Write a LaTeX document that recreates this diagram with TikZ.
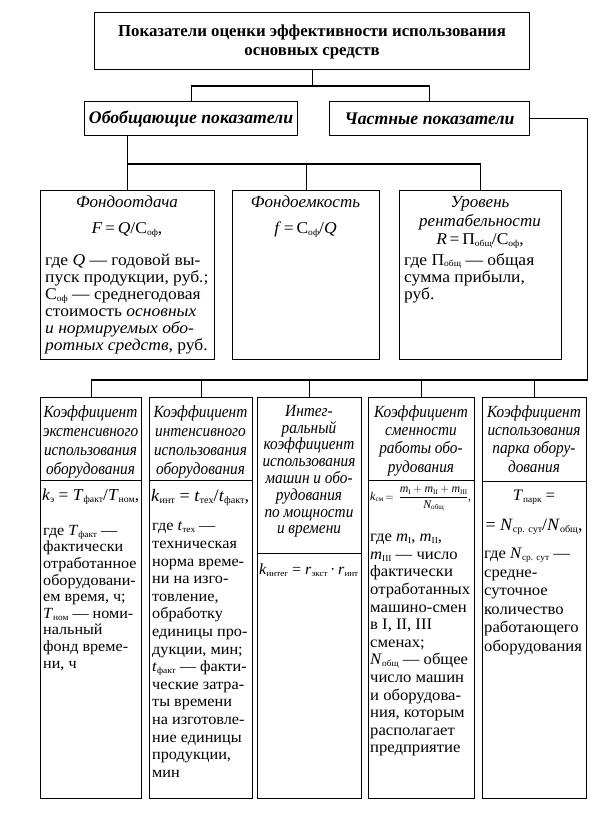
\documentclass[tikz,border=0pt]{standalone}
\usepackage{fontspec}
\setmainfont{Liberation Serif}
\newfontfamily\wideA[FakeStretch=1.06]{Liberation Serif}
\newfontfamily\wideB[FakeStretch=1.04]{Liberation Serif}
\newfontfamily\narrowH[FakeStretch=0.9]{Liberation Serif}
\usepackage{amsmath}
\usepackage{graphicx}
\newcommand\sub[1]{\raisebox{-0.25ex}{\fontsize{9}{9}\selectfont #1}}
\newcommand\fsA{\wideA\fontsize{16.5}{17}\selectfont}
\newcommand\fsH{\narrowH\itshape\fontsize{17}{19}\selectfont}
\newcommand\fsB{\wideB\fontsize{16}{17.6}\selectfont}
\newcommand\bx[5]{\node[box, minimum width={(#4-#2)*1pt}, minimum height={(#5-#3)*1pt}] (#1) at (#2,#3) {};}
\begin{document}
\begin{tikzpicture}[x=1pt,y=-1pt,
  box/.style={draw, line width=1.1pt, inner sep=0pt, anchor=north west},
  conn/.style={line width=1.1pt},
  tx/.style={inner sep=0pt, anchor=north, align=center},
  txl/.style={inner sep=0pt, anchor=north west, align=left},
]
\useasboundingbox (0,0) rectangle (599,819);
\fill[white] (0,0) rectangle (599,819);

% boxes
\bx{top}{94}{12}{529}{69}
\bx{gen}{84}{101}{297}{135}
\bx{part}{329}{101}{529}{135}
\bx{fo}{40}{190}{214}{359}
\bx{fe}{232}{190}{379}{359}
\bx{ur}{399}{190}{561}{359}
\bx{h1}{40}{397}{141}{480}
\bx{b1}{40}{480}{141}{798}
\bx{h2}{149}{397}{252}{480}
\bx{b2}{149}{480}{252}{798}
\bx{h3}{257}{397}{361}{553}
\bx{b3}{257}{553}{361}{798}
\bx{h4}{368}{397}{474}{480}
\bx{b4}{368}{480}{474}{798}
\bx{h5}{482}{397}{586}{481}
\bx{b5}{482}{481}{586}{798}

% connectors
\coordinate (bus1) at (0,86);
\coordinate (bus2) at (0,164);
\coordinate (bus3) at (0,380);
\draw[conn] (top.south) -- (top.south |- bus1);
\draw[conn] (gen.north) -- (gen.north |- bus1) -| (part.north);
\draw[conn] (gen.south -| fo.north) -- (fo.north);
\draw[conn] (fo.north |- bus2) -| (ur.north);
\draw[conn] (fe.north |- bus2) -- (fe.north);
\draw[conn] (part.east) -| (h5.north east |- bus3) -- (h1.north |- bus3) -- (h1.north);
\draw[conn] (h2.north |- bus3) -- (h2.north);
\draw[conn] (h3.north |- bus3) -- (h3.north);
\draw[conn] (h4.north |- bus3) -- (h4.north);
\draw[conn] (h5.north |- bus3) -- (h5.north);

% texts top
\node[tx, anchor=center, font=\bfseries\fontsize{16.8}{19}\selectfont] (toptxt) at ([yshift=-1pt]top.center) {Показатели оценки эффективности использования\\основных средств};
\node[tx, anchor=center, font=\bfseries\itshape\fontsize{17.7}{19}\selectfont] (gentxt) at (gen.center) {Обобщающие показатели};
\node[tx, anchor=center, font=\bfseries\itshape\fontsize{17.7}{19}\selectfont] (parttxt) at (part.center) {Частные показатели};

% row 1
\node[tx, font=\itshape\fontsize{17}{19}\selectfont] (fot) at (127,196) {Фондоотдача};
\node[tx, font=\fsA] (fof) at (127,222) {\textit{F}\,=\,\textit{Q}/С\sub{оф},};
\node[txl, font=\fsA] (fob) at (45,254) {где \textit{Q} — годовой вы-\\пуск продукции, руб.;\\С\sub{оф} — среднегодовая\\стоимость \textit{основных}\\\textit{и нормируемых обо-}\\\textit{ротных средств}, руб.};

\node[tx, font=\itshape\fontsize{17}{19}\selectfont] (fet) at (305.5,196) {Фондоемкость};
\node[tx, font=\fsA] (fef) at (305.5,222) {\textit{f}\,=\,С\sub{оф}/\textit{Q}};

\node[tx, font=\itshape\fontsize{17}{19}\selectfont] (urt) at (480,196) {Уровень\\рентабельности};
\node[tx, font=\fsA] (urf) at (480,233) {\textit{R}\,=\,П\sub{общ}/С\sub{оф},};
\node[txl, font=\fsA] (urb) at (404,253) {где П\sub{общ} — общая\\сумма прибыли,\\руб.};

% row 2 headers
\node[tx, font=\fsH] (h1t) at (90.5,405) {Коэффициент\\экстенсивного\\использования\\оборудования};
\node[tx, font=\fsH] (h2t) at (200.5,405) {Коэффициент\\интенсивного\\использования\\оборудования};
\node[tx, font=\narrowH\itshape\fontsize{17}{16.8}\selectfont] (h3t) at (309,405) {Интег-\\ральный\\коэффициент\\использования\\машин и обо-\\рудования\\по мощности\\и времени};
\node[tx, font=\narrowH\itshape\fontsize{17}{18.4}\selectfont] (h4t) at (421,405) {Коэффициент\\сменности\\работы обо-\\рудования};
\node[tx, font=\narrowH\itshape\fontsize{17}{18.4}\selectfont] (h5t) at (534,405) {Коэффициент\\использования\\парка обору-\\дования};

% row 2 bodies
\node[txl, font=\fsB] (b1f) at (42,489) {\resizebox{97pt}{!}{\textit{k}\sub{э} = \textit{T}\sub{факт}/\textit{T}\sub{ном},}};
\node[txl, font=\wideB\fontsize{15.5}{16.6}\selectfont] (b1b) at (43,525) {где \textit{T}\sub{факт} —\\фактически\\отработанное\\оборудовани-\\ем время, ч;\\\textit{T}\sub{ном} — номи-\\нальный\\фонд време-\\ни, ч};

\node[txl, font=\fsB] (b2f) at (151,489) {\resizebox{98pt}{!}{\textit{k}\sub{инт} = \textit{t}\sub{тех}/\textit{t}\sub{факт},}};
\node[txl, font=\wideB\fontsize{15.6}{17.6}\selectfont] (b2b) at (152,522) {где \textit{t}\sub{тех} —\\техническая\\норма време-\\ни на изго-\\товление,\\обработку\\единицы про-\\дукции, мин;\\\textit{t}\sub{факт} — факти-\\ческие затра-\\ты времени\\на изготовле-\\ние единицы\\продукции,\\мин};

\node[txl, font=\fsB] (b3f) at (259,564) {\resizebox{99pt}{!}{\textit{k}\sub{интег} = \textit{r}\sub{экст}\,·\,\textit{r}\sub{инт}}};

\node[txl, font=\fontsize{15}{16}\selectfont] (b4f) at (370,486) {\resizebox{101pt}{!}{\textit{k}\sub{см}$\,=\,\dfrac{\textit{m}\sub{I} + \textit{m}\sub{II} + \textit{m}\sub{III}}{\textit{N}\sub{общ}}$,}};
\node[txl, font=\fsB] (b4b) at (370,534) {где \textit{m}\sub{I}, \textit{m}\sub{II},\\\textit{m}\sub{III} — число\\фактически\\отработанных\\машино-смен\\в I, II, III\\сменах;\\\textit{N}\sub{общ} — общее\\число машин\\и оборудова-\\ния, которым\\располагает\\предприятие};

\node[tx, font=\fsB] (b5f) at (534,490) {\textit{T}\sub{парк} =};
\node[tx, font=\fsB] (b5g) at (534,519) {\resizebox{97pt}{!}{= \textit{N}\sub{ср. сут}/\textit{N}\sub{общ},}};
\node[txl, font=\wideB\fontsize{16}{18.5}\selectfont] (b5b) at (484,548) {где \textit{N}\sub{ср. сут} —\\средне-\\суточное\\количество\\работающего\\оборудования};
\end{tikzpicture}
\end{document}
